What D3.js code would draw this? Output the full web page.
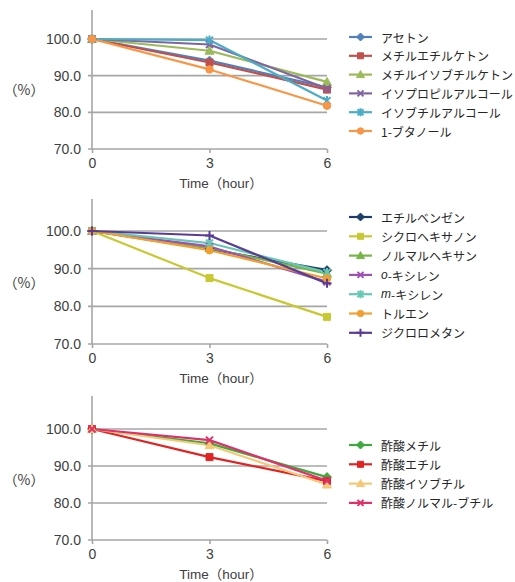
<!DOCTYPE html>
<html><head><meta charset="utf-8">
<script src="https://cdn.jsdelivr.net/npm/d3@7"></script>
<style>
body{margin:0;background:#fff;}
svg{display:block;}
text{font-family:"Liberation Sans",Arial,sans-serif;}
.jp{font-family:"Noto Sans CJK JP","Liberation Sans",sans-serif;}
</style></head><body>
<svg id="c" width="515" height="582"></svg>
<script>
const hours = [0, 3, 6];
const yTicks = [70, 80, 90, 100];
const xTickLabels = ["0", "3", "6"];

// Panel 1
const names1 = ["アセトン","メチルエチルケトン","メチルイソブチルケトン","イソプロピルアルコール","イソブチルアルコール","1-ブタノール"];
const values1 = [
  [100, 94.1, 86.8],
  [100, 93.6, 86.2],
  [100, 96.8, 88.3],
  [100, 98.5, 86.5],
  [100, 99.7, 83.2],
  [100, 91.7, 81.8]
];
const colors1 = ["#4F81BD","#C0504D","#9BBB59","#8064A2","#4BACC6","#F79646"];
const markers1 = ["diamond","square","triangle","x","star","circle"];

// Panel 2
const names2 = ["エチルベンゼン","シクロヘキサノン","ノルマルヘキサン","o-キシレン","m-キシレン","トルエン","ジクロロメタン"];
const values2 = [
  [100, 95.2, 89.6],
  [100, 87.5, 77.2],
  [100, 95.5, 88.7],
  [100, 95.9, 86.5],
  [100, 96.8, 89.0],
  [100, 94.9, 87.4],
  [100, 98.8, 86.1]
];
const colors2 = ["#1F3D6B","#C8C832","#77B547","#A050B4","#66C8B4","#F0A030","#5A3C96"];
const markers2 = ["diamond","square","triangle","x","star","circle","plus"];

// Panel 3
const names3 = ["酢酸メチル","酢酸エチル","酢酸イソブチル","酢酸ノルマル-ブチル"];
const values3 = [
  [100, 96.1, 87.0],
  [100, 92.4, 85.9],
  [100, 95.6, 85.0],
  [100, 97.0, 86.0]
];
const colors3 = ["#3CAA3C","#E02424","#F5C878","#E0306C"];
const markers3 = ["diamond","square","triangle","x"];

const svg = d3.select("#c");

function markerPath(type, s){
  const h = s/2;
  switch(type){
    case "diamond": return `M0,${-h-1}L${h+1},0L0,${h+1}L${-h-1},0Z`;
    case "square": return `M${-h},${-h}h${s}v${s}h${-s}Z`;
    case "triangle": return `M0,${-h-1}L${h+1},${h}L${-h-1},${h}Z`;
    case "x": return `M${-h},${-h}L${h},${h}M${h},${-h}L${-h},${h}`;
    case "star": return `M${-h},${-h}L${h},${h}M${h},${-h}L${-h},${h}M0,${-h-1}V${h+1}`;
    case "plus": return `M${-h-1},0H${h+1}M0,${-h-1}V${h+1}`;
    case "circle": return d3.symbol(d3.symbolCircle, s*s*0.9)();
  }
}
function drawMarker(g, type, color, x, y, s){
  const filled = !(type==="x"||type==="star"||type==="plus");
  g.append("path").attr("d", markerPath(type, s))
    .attr("transform", `translate(${x},${y})`)
    .attr("fill", filled ? color : "none")
    .attr("stroke", color).attr("stroke-width", filled ? 1 : 2);
}

function panel(cfg){
  const {top, y100, y70, names, values, colors, markers, legendY} = cfg;
  const x = d3.scaleLinear().domain([0,6]).range([92,327]);
  const y = d3.scaleLinear().domain([70,100]).range([y70,y100]);
  const g = svg.append("g");
  // gridlines
  g.selectAll(".grid").data(yTicks.slice(1)).join("line")
    .attr("x1", 88).attr("x2", x(6)).attr("y1", d=>y(d)).attr("y2", d=>y(d))
    .attr("stroke", "#A6A6A6").attr("stroke-width", 1.6);
  // x axis
  const xa = d3.axisBottom(x).tickValues(hours).tickSize(4).tickFormat((d,i)=>xTickLabels[i]);
  const xg = g.append("g").attr("transform", `translate(0,${y(70)})`).call(xa);
  xg.select(".domain").attr("stroke","#A6A6A6").attr("stroke-width",1.6).attr("d", `M88,0H${x(6)}`);
  xg.selectAll(".tick line").attr("stroke","#A6A6A6").attr("stroke-width",1.6);
  xg.selectAll(".tick text").attr("font-size",14).attr("fill","#404040").attr("dy","0.85em")
    .attr("font-family","Liberation Sans, Arial, sans-serif");
  // y axis
  const ya = d3.axisLeft(y).tickValues(yTicks).tickSize(0).tickPadding(11).tickFormat(d3.format(".1f"));
  const yg = g.append("g").attr("transform", `translate(92,0)`).call(ya);
  yg.select(".domain").attr("stroke","#A6A6A6").attr("stroke-width",1.6).attr("d", `M0,${top}V${y(70)}`);
  yg.selectAll(".tick text").attr("font-size",14).attr("fill","#404040")
    .attr("font-family","Liberation Sans, Arial, sans-serif");
  // axis titles
  g.append("text").attr("class","jp").attr("x", 24).attr("y", (y(90)+y(80))/2 - 3)
    .attr("text-anchor","middle").attr("dominant-baseline","middle")
    .attr("font-size",14).attr("fill","#404040").text("（%）");
  g.append("text").attr("class","jp").attr("x", 221).attr("y", y(70)+35)
    .attr("text-anchor","middle").attr("dominant-baseline","middle")
    .attr("font-size",13.5).attr("fill","#404040")
    .html('<tspan font-family="Liberation Sans, Arial, sans-serif">Time</tspan>（<tspan font-family="Liberation Sans, Arial, sans-serif">hour</tspan>）');
  // series
  const line = d3.line().x((d,i)=>x(hours[i])).y(d=>y(d));
  values.forEach((vals,k)=>{
    g.append("path").attr("d", line(vals)).attr("fill","none")
      .attr("stroke", colors[k]).attr("stroke-width", 2.2).attr("stroke-linejoin","round");
  });
  values.forEach((vals,k)=>{
    vals.forEach((v,i)=> drawMarker(g, markers[k], colors[k], x(hours[i]), y(v), 7));
  });
  // legend
  names.forEach((n,k)=>{
    const ly = legendY[0] + k*legendY[1];
    g.append("line").attr("x1",349).attr("x2",372).attr("y1",ly).attr("y2",ly)
      .attr("stroke",colors[k]).attr("stroke-width",2.2);
    drawMarker(g, markers[k], colors[k], 360.5, ly, 6);
    const t = g.append("text").attr("class","jp").attr("x",381).attr("y",ly)
      .attr("dominant-baseline","central").attr("font-size",12).attr("fill","#262626");
    if (n.startsWith("o-") || n.startsWith("m-")) {
      t.append("tspan").attr("font-style","italic").attr("font-family","Liberation Sans, Arial, sans-serif").text(n[0]);
      t.append("tspan").text(n.slice(1));
    } else t.text(n);
  });
}

panel({top:10, y100:39, y70:149, names:names1, values:values1, colors:colors1, markers:markers1, legendY:[37, 18.8]});
panel({top:199, y100:231, y70:344, names:names2, values:values2, colors:colors2, markers:markers2, legendY:[217, 19.3]});
panel({top:396, y100:429, y70:540, names:names3, values:values3, colors:colors3, markers:markers3, legendY:[445, 19.3]});
</script>
</body></html>
